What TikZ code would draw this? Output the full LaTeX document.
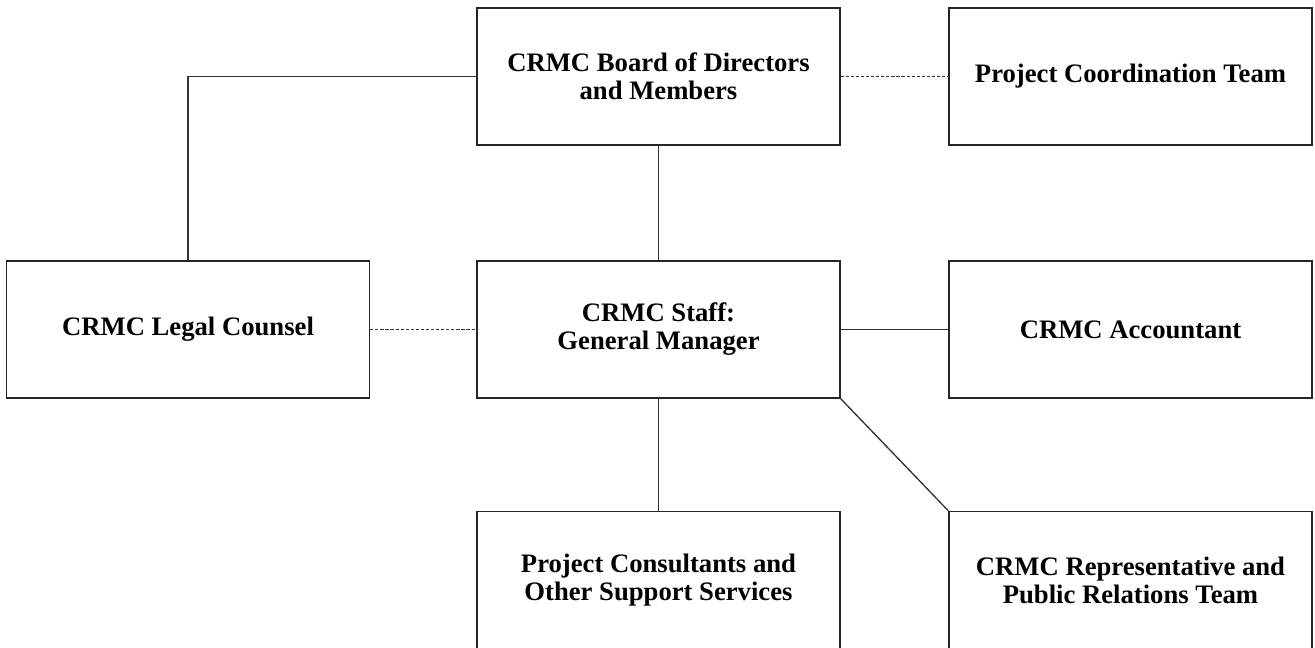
\documentclass[tikz,border=0pt]{standalone}
\usepackage{fontspec}
\setmainfont{Liberation Serif}
\begin{document}
\begin{tikzpicture}[x=0.75pt,y=-0.75pt,
  box/.style={draw=black!85,line width=1pt,minimum width=272.25pt,minimum height=102.75pt,
    align=center,inner sep=0pt,font=\fontsize{20}{21}\selectfont\bfseries},
  conn/.style={draw=black!80,line width=1pt},
  dotline/.style={draw=black!80,line width=1pt,dash pattern=on 2.4pt off 1.4pt}]
\useasboundingbox (0,0) rectangle (1315,648);
\node[box] (board) at (658.5,76.5) {CRMC Board of Directors\\and Members};
\node[box] (pct) at (1130.5,76.5) {Project Coordination Team};
\node[box] (legal) at (188,329.5) {CRMC Legal Counsel};
\node[box] (staff) at (658.5,329.5) {CRMC Staff:\\General Manager};
\node[box] (acct) at (1130.5,329.5) {CRMC Accountant};
\node[box] (cons) at (658.5,580) {Project Consultants and\\Other Support Services};
\node[box] (rep) at (1130.5,580) {CRMC Representative and\\Public Relations Team};
\draw[conn] (board.west) -| (legal.north);
\draw[dotline] (board.east) -- (pct.west);
\draw[conn] (board.south) -- (staff.north);
\draw[dotline] (legal.east) -- (staff.west);
\draw[conn] (staff.east) -- (acct.west);
\draw[conn] (staff.south) -- (cons.north);
\draw[conn] (staff.south east) -- (rep.north west);
\end{tikzpicture}
\end{document}
